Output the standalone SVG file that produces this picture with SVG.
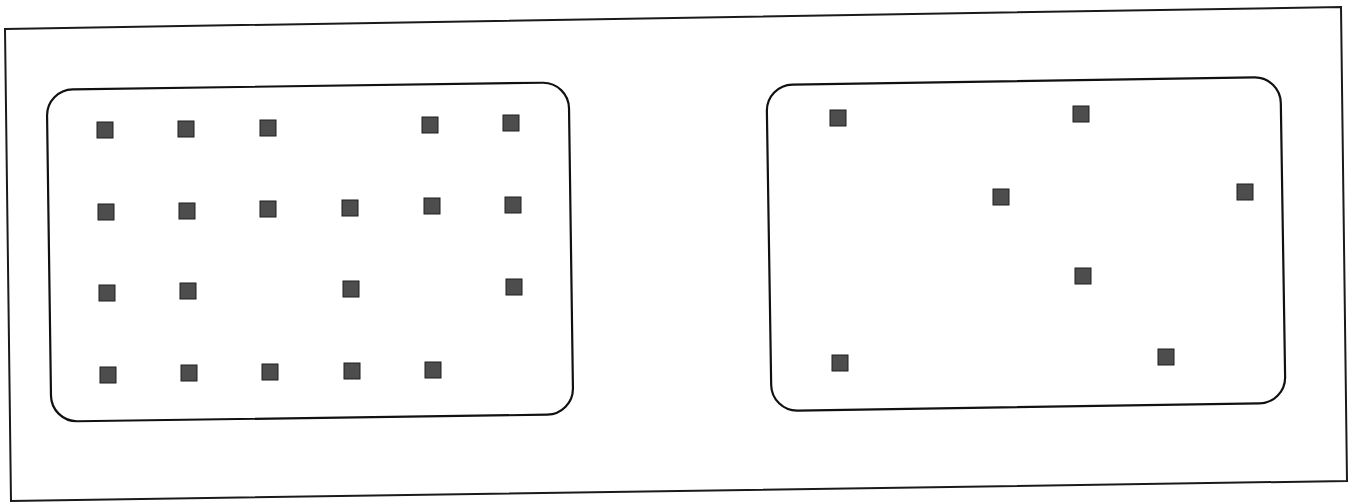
<svg xmlns="http://www.w3.org/2000/svg" width="1356" height="503" viewBox="0 0 1356 503">
<style>
.frame{fill:#fff;stroke:#1a1a1a;stroke-width:2}
.box{fill:none;stroke:#111;stroke-width:2.2}
.sq{fill:#4d4d4d;stroke:#1e1e1e;stroke-width:1}
</style>
<rect x="0" y="0" width="1356" height="503" fill="#fff"/>
<polygon class="frame" points="5,29 1341,7 1347,481 11,501"/>
<g id="left-box">
<rect class="box" x="49" y="86" width="522" height="332" rx="26" ry="26" transform="rotate(-0.8 310 252)"/>
<g id="left-squares">
<rect id="l1" class="sq" x="97" y="122" width="16" height="16"/>
<rect id="l2" class="sq" x="178" y="121" width="16" height="16"/>
<rect id="l3" class="sq" x="260" y="120" width="16" height="16"/>
<rect id="l4" class="sq" x="422" y="117" width="16" height="16"/>
<rect id="l5" class="sq" x="503" y="115" width="16" height="16"/>
<rect id="l6" class="sq" x="98" y="204" width="16" height="16"/>
<rect id="l7" class="sq" x="179" y="203" width="16" height="16"/>
<rect id="l8" class="sq" x="260" y="201" width="16" height="16"/>
<rect id="l9" class="sq" x="342" y="200" width="16" height="16"/>
<rect id="l10" class="sq" x="424" y="198" width="16" height="16"/>
<rect id="l11" class="sq" x="505" y="197" width="16" height="16"/>
<rect id="l12" class="sq" x="99" y="285" width="16" height="16"/>
<rect id="l13" class="sq" x="180" y="283" width="16" height="16"/>
<rect id="l14" class="sq" x="343" y="281" width="16" height="16"/>
<rect id="l15" class="sq" x="506" y="279" width="16" height="16"/>
<rect id="l16" class="sq" x="100" y="367" width="16" height="16"/>
<rect id="l17" class="sq" x="181" y="365" width="16" height="16"/>
<rect id="l18" class="sq" x="262" y="364" width="16" height="16"/>
<rect id="l19" class="sq" x="344" y="363" width="16" height="16"/>
<rect id="l20" class="sq" x="425" y="362" width="16" height="16"/>
</g>
</g>
<g id="right-box">
<rect class="box" x="769" y="81" width="514" height="326" rx="26" ry="26" transform="rotate(-0.9 1026 244)"/>
<g id="right-squares">
<rect id="r1" class="sq" x="830" y="110" width="16" height="16"/>
<rect id="r2" class="sq" x="1073" y="106" width="16" height="16"/>
<rect id="r3" class="sq" x="993" y="189" width="16" height="16"/>
<rect id="r4" class="sq" x="1237" y="184" width="16" height="16"/>
<rect id="r5" class="sq" x="1075" y="268" width="16" height="16"/>
<rect id="r6" class="sq" x="832" y="355" width="16" height="16"/>
<rect id="r7" class="sq" x="1158" y="349" width="16" height="16"/>
</g>
</g>
<g id="connectors"/>
</svg>
